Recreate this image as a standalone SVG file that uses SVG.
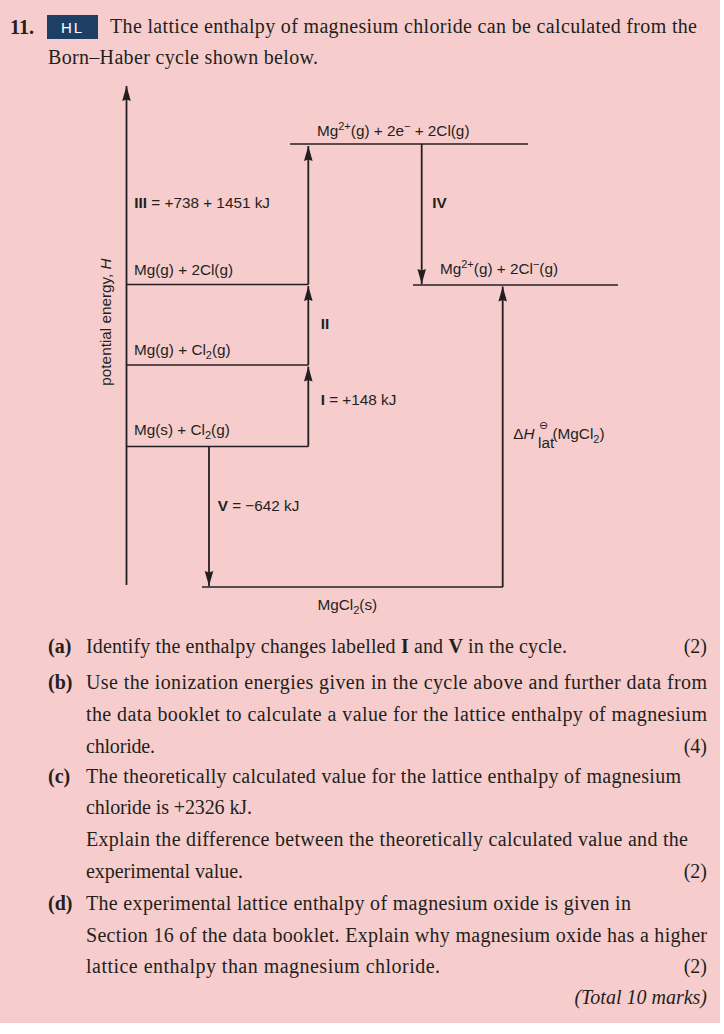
<svg xmlns="http://www.w3.org/2000/svg" width="724" height="1034" viewBox="0 0 724 1034">
<style>
.bg{fill:#f6cdcc}
.serif{font-family:"Liberation Serif","Times New Roman",serif;font-size:20px;fill:#231f20}
.sans{font-family:"Liberation Sans",Arial,sans-serif;font-size:15.3px;fill:#231f20}
.b{font-weight:bold}
.lvl{stroke:#231f20;stroke-width:1.5;fill:none}
.arr{stroke:#231f20;stroke-width:1.8;fill:none;marker-end:url(#ah)}
</style>
<defs>
<marker id="ah" markerUnits="userSpaceOnUse" markerWidth="18" markerHeight="12" viewBox="-16 -6 18 12" refX="0" refY="0" orient="auto">
<path d="M0,0 L-15,-4.3 L-13.5,0 L-15,4.3 Z" fill="#231f20"/>
</marker>
</defs>
<rect class="bg" x="0" y="0" width="720" height="1023"/>
<rect x="720" y="0" width="4" height="1034" fill="#ffffff"/>
<rect x="0" y="1023" width="724" height="11" fill="#ffffff"/>

<g id="header">
<text class="serif b" x="10" y="34" font-size="21">11.</text>
<rect x="47" y="15" width="51" height="24" fill="#1d3f66"/>
<text x="72.5" y="33" text-anchor="middle" font-family="Liberation Sans,Arial,sans-serif" font-size="15" letter-spacing="2" fill="#ffffff">HL</text>
<text class="serif" x="110" y="33" textLength="587">The lattice enthalpy of magnesium chloride can be calculated from the</text>
<text class="serif" x="48" y="64" textLength="270">Born–Haber cycle shown below.</text>
</g>

<g id="axis">
<line class="arr" x1="126.5" y1="585" x2="126.5" y2="86"/>
<text class="sans" transform="translate(111,322) rotate(-90)" text-anchor="middle" font-size="14.3">potential energy, <tspan font-style="italic">H</tspan></text>
</g>

<g id="connectors">
<path class="lvl" d="M126.5,446.5 H308.3"/>
<path class="lvl" d="M126.5,365 H308.3"/>
<path class="lvl" d="M126.5,284.5 H308.3"/>
<path class="lvl" d="M290,144 H528"/>
<path class="lvl" d="M413,285 H618"/>
<path class="lvl" d="M202,587 H503" stroke="#3d3233"/>
<line class="arr" x1="308.3" y1="446.5" x2="308.3" y2="366.5"/>
<line class="arr" x1="308.3" y1="365" x2="308.3" y2="286"/>
<line class="arr" x1="308.3" y1="284.5" x2="308.3" y2="146"/>
<line class="arr" x1="421.7" y1="144" x2="421.7" y2="284"/>
<line class="arr" x1="502.7" y1="587" x2="502.7" y2="286.5"/>
<line class="arr" x1="209" y1="446.5" x2="209" y2="586"/>
</g>

<g id="node-mgs">
<text class="sans" x="134" y="435">Mg(s) + Cl<tspan dy="3.5" font-size="11">2</tspan><tspan dy="-3.5">(g)</tspan></text>
</g>
<g id="node-mgg-cl2">
<text class="sans" x="134" y="355">Mg(g) + Cl<tspan dy="3.5" font-size="11">2</tspan><tspan dy="-3.5">(g)</tspan></text>
</g>
<g id="node-mgg-2cl">
<text class="sans" x="134" y="275">Mg(g) + 2Cl(g)</text>
</g>
<g id="node-mg2-e">
<text class="sans" x="317" y="135.5">Mg<tspan dy="-6" font-size="11">2+</tspan><tspan dy="6">(g) + 2e</tspan><tspan dy="-6" font-size="11">−</tspan><tspan dy="6"> + 2Cl(g)</tspan></text>
</g>
<g id="node-mg2-cl">
<text class="sans" x="440" y="274.3">Mg<tspan dy="-6" font-size="11">2+</tspan><tspan dy="6">(g) + 2Cl</tspan><tspan dy="-6" font-size="11">−</tspan><tspan dy="6">(g)</tspan></text>
</g>
<g id="node-mgcl2">
<text class="sans" x="317.5" y="610">MgCl<tspan dy="3.5" font-size="11">2</tspan><tspan dy="-3.5">(s)</tspan></text>
</g>

<g id="labels">
<text class="sans" x="134.3" y="207.7"><tspan class="b">III</tspan> = +738 + 1451 kJ</text>
<text class="sans b" x="432.3" y="208.3">IV</text>
<text class="sans b" x="320.7" y="329.3">II</text>
<text class="sans" x="320.7" y="405"><tspan class="b">I</tspan> = +148 kJ</text>
<text class="sans" x="217.7" y="511"><tspan class="b">V</tspan> = −642 kJ</text>
<text class="sans" x="513.3" y="439.3" font-size="16">Δ<tspan font-style="italic">H</tspan></text>
<text class="sans" x="538" y="447.5" font-size="11">lat</text>
<text x="539" y="429" font-family="DejaVu Sans,sans-serif" font-size="11" fill="#231f20">⊖</text>
<text class="sans" x="552.5" y="439.3">(MgCl<tspan dy="3.5" font-size="11">2</tspan><tspan dy="-3.5">)</tspan></text>
</g>

<g id="questions">
<text class="serif b" x="48" y="653">(a)</text>
<text class="serif" x="86" y="653" textLength="481">Identify the enthalpy changes labelled <tspan class="b">I</tspan> and <tspan class="b">V</tspan> in the cycle.</text>
<text class="serif" x="707" y="653" text-anchor="end">(2)</text>

<text class="serif b" x="48" y="689">(b)</text>
<text class="serif" x="86" y="689" textLength="621">Use the ionization energies given in the cycle above and further data from</text>
<text class="serif" x="86" y="721" textLength="621">the data booklet to calculate a value for the lattice enthalpy of magnesium</text>
<text class="serif" x="86" y="753" textLength="69">chloride.</text>
<text class="serif" x="707" y="753" text-anchor="end">(4)</text>

<text class="serif b" x="48" y="783">(c)</text>
<text class="serif" x="86" y="783" textLength="595">The theoretically calculated value for the lattice enthalpy of magnesium</text>
<text class="serif" x="86" y="814" textLength="166">chloride is +2326 kJ.</text>
<text class="serif" x="86" y="846" textLength="602">Explain the difference between the theoretically calculated value and the</text>
<text class="serif" x="86" y="878" textLength="157">experimental value.</text>
<text class="serif" x="707" y="878" text-anchor="end">(2)</text>

<text class="serif b" x="48" y="910">(d)</text>
<text class="serif" x="86" y="910" textLength="545">The experimental lattice enthalpy of magnesium oxide is given in</text>
<text class="serif" x="86" y="942" textLength="621">Section 16 of the data booklet. Explain why magnesium oxide has a higher</text>
<text class="serif" x="86" y="973" textLength="354">lattice enthalpy than magnesium chloride.</text>
<text class="serif" x="707" y="973" text-anchor="end">(2)</text>

<text class="serif" x="707" y="1004" text-anchor="end" font-style="italic">(Total 10 marks)</text>
</g>
</svg>
